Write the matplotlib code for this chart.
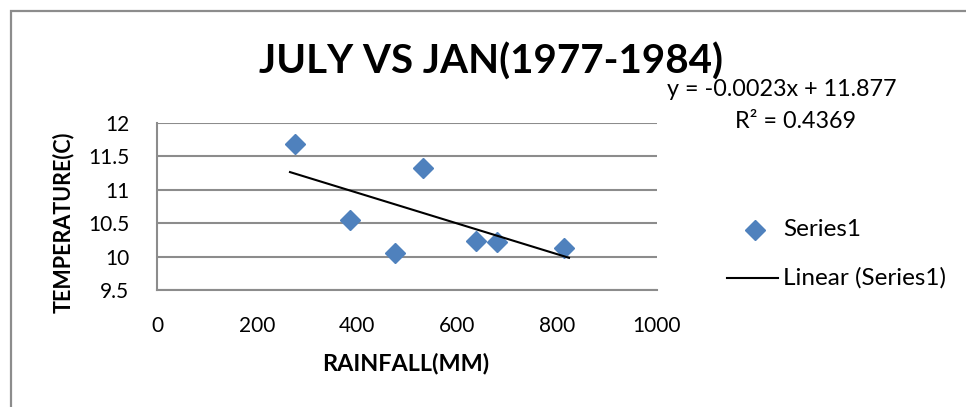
import matplotlib
matplotlib.use("Agg")
import matplotlib.pyplot as plt
from matplotlib.lines import Line2D
from matplotlib.patches import Rectangle
import numpy as np

plt.rcParams['font.family'] = ['Lato', 'DejaVu Sans']

# July rainfall (mm) against January temperature (C), 1977-1984
rainfall = [276, 385, 475, 532, 637, 680, 814]
temperature = [11.69, 10.55, 10.05, 11.325, 10.24, 10.225, 10.125]

# Linear trendline coefficients
slope = -0.0023
intercept = 11.877
r_squared = 0.4369

x_ticks = [0, 200, 400, 600, 800, 1000]
y_ticks = [9.5, 10, 10.5, 11, 11.5, 12]

W, H = 966, 407
fig = plt.figure(figsize=(W / 100, H / 100), dpi=100)

# chart frame
fig.patches.append(Rectangle((11 / W, -0.1), 1.2, 1 - 11 / H + 0.1,
                             transform=fig.transFigure, fill=False,
                             edgecolor='#8c8c8c', linewidth=1.6))

ax = fig.add_axes([157 / W, 1 - 290 / H, 500 / W, 167 / H])
ax.set_xlim(0, 1000)
ax.set_ylim(9.5, 12)
ax.set_xticks(x_ticks)
ax.set_yticks(y_ticks)
ax.set_xticklabels([str(v) for v in x_ticks])
ax.set_yticklabels([f"{v:g}" for v in y_ticks])
ax.tick_params(length=0, labelsize=15, colors='#000000')
ax.tick_params(axis='x', pad=19)
ax.tick_params(axis='y', pad=20)
for sp in ['top', 'right', 'bottom']:
    ax.spines[sp].set_visible(False)
ax.spines['left'].set_color('#8c8c8c')
ax.spines['left'].set_linewidth(1.5)
ax.grid(axis='y', color='#8c8c8c', linewidth=1.5)
ax.set_axisbelow(True)
ax.axhline(9.5, color='#8c8c8c', linewidth=1.5, zorder=1, clip_on=False)

ax.plot(rainfall, temperature, linestyle='none', marker='D', markersize=9.8,
        color='#4f81bd', markeredgecolor='#4f81bd', zorder=3)

xs = np.array([min(rainfall) - 10, max(rainfall) + 10])
ax.plot(xs, slope * xs + intercept, color='black', linewidth=1.5, zorder=4)

fig.text(491 / W, 1 - 62 / H, "JULY VS JAN(1977-1984)", ha='center', va='center',
         fontsize=29, fontweight='bold')
fig.text(782 / W, 1 - 90 / H, f"y = {slope}x + {intercept}", ha='center',
         va='center', fontsize=16.8)
fig.text(796 / W, 1 - 122 / H, f"R² = {r_squared}", ha='center', va='center',
         fontsize=16.8)

fig.text(406 / W, 1 - 363 / H, "RAINFALL(MM)", ha='center', va='center',
         fontsize=16.8, fontweight='bold')
fig.text(63 / W, 1 - 222 / H, "TEMPERATURE(C)", ha='center', va='center',
         rotation=90, fontsize=15.5, fontweight='bold')

# legend
fig.lines.append(Line2D([755 / W], [1 - 230 / H], marker='D', markersize=9.8,
                        color='#4f81bd', linestyle='none',
                        transform=fig.transFigure))
fig.text(783 / W, 1 - 230 / H, "Series1", ha='left', va='center', fontsize=17.5)
fig.lines.append(Line2D([727 / W, 778 / W], [1 - 278 / H, 1 - 278 / H],
                        color='black', linewidth=1.5, transform=fig.transFigure))
fig.text(783 / W, 1 - 278 / H, "Linear (Series1)", ha='left', va='center',
         fontsize=17.5)

fig.savefig("out.png", dpi=100)
